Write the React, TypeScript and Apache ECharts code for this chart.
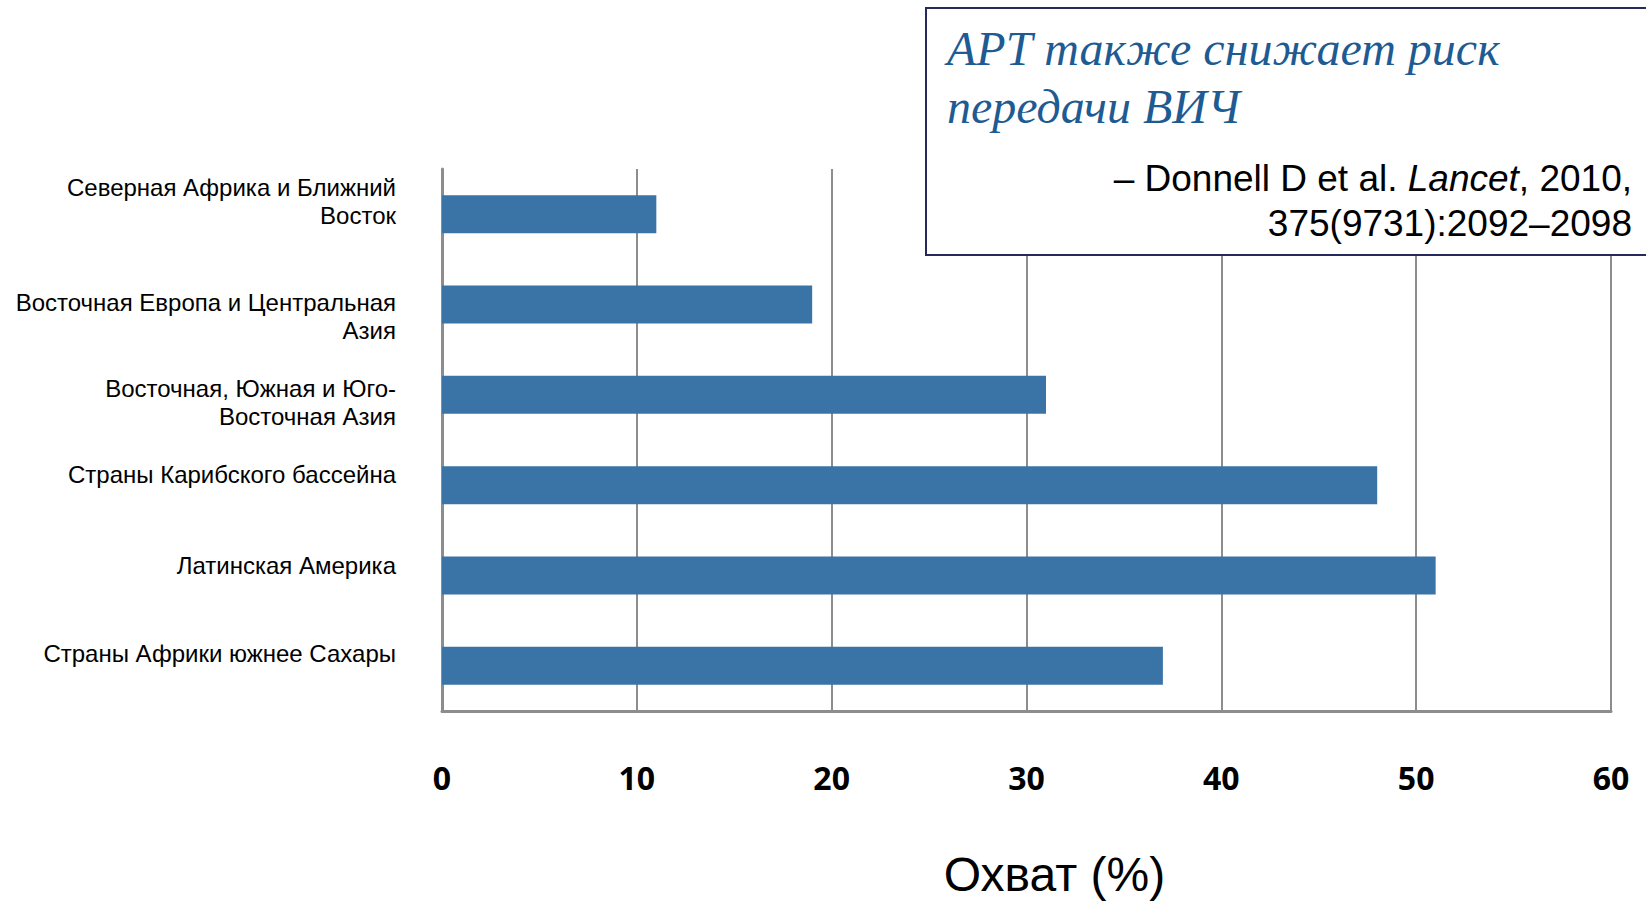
import React, { useEffect, useRef } from "react";
import * as echarts from "echarts";

const categories = [
  "Северная Африка и Ближний\nВосток",
  "Восточная Европа и Центральная\nАзия",
  "Восточная, Южная и Юго-\nВосточная Азия",
  "Страны Карибского бассейна",
  "Латинская Америка",
  "Страны Африки южнее Сахары",
];
const coverage = [11, 19, 31, 48, 51, 37];
const xTicks = { min: 0, max: 60, interval: 10 };
const axisTitle = "Охват (%)";
const boxTitle = ["АРТ также снижает риск", "передачи ВИЧ"];

// vertical nudges of category labels (px, negative = up)
const labelShift = [-13, 12, 8, -11, -10, -12];

export default function App() {
  const ref = useRef<HTMLDivElement>(null);
  useEffect(() => {
    const chart = echarts.init(ref.current!, null, { renderer: "svg" });
    const base = { fontFamily: "Liberation Sans", fontSize: 24, color: "#000000", height: 28, align: "right" };
    const rich: Record<string, any> = {};
    labelShift.forEach((d, i) => {
      const down = Math.max(0, 2 * d);
      const up = Math.max(0, -2 * d);
      rich["f" + i] = { ...base, padding: [down, 0, 0, 0] };
      rich["l" + i] = { ...base, padding: [0, 0, up, 0] };
      rich["s" + i] = { ...base, padding: [down, 0, up, 0] };
    });
    chart.setOption({
      animation: false,
      backgroundColor: "#ffffff",
      grid: { left: 442, right: 1646 - 1611, top: 169, bottom: 903 - 712.5, containLabel: false },
      xAxis: {
        type: "value",
        min: xTicks.min,
        max: xTicks.max,
        interval: xTicks.interval,
        axisLine: { show: true, lineStyle: { color: "#8d8d8d", width: 3 } },
        axisTick: { show: false },
        splitLine: { show: true, lineStyle: { color: "#8d8d8d", width: 2 } },
        axisLabel: {
          margin: 50,
          fontFamily: "Open Sans",
          fontWeight: "bold",
          fontSize: 32,
          lineHeight: 32,
          color: "#000000",
        },
        name: axisTitle,
        nameLocation: "middle",
        nameGap: 139,
        nameTextStyle: {
          fontFamily: "Liberation Sans",
          fontSize: 48,
          lineHeight: 48,
          color: "#000000",
          padding: [0, 0, 0, 56],
        },
      },
      yAxis: {
        type: "category",
        inverse: true,
        data: categories,
        axisLine: { show: true, lineStyle: { color: "#8d8d8d", width: 3 } },
        axisTick: { show: false },
        splitLine: { show: false },
        axisLabel: {
          margin: 46,
          fontFamily: "Liberation Sans",
          fontSize: 24,
          color: "#000000",
          align: "right",
          formatter: (val: string, idx: number) => {
            const lines = val.split("\n");
            if (lines.length === 1) return `{s${idx}|${lines[0]}}`;
            return `{f${idx}|${lines[0]}}\n{l${idx}|${lines[1]}}`;
          },
          rich,
        },
      },
      series: [
        {
          type: "bar",
          data: coverage,
          barWidth: 38,
          itemStyle: { color: "#3a73a5" },
        },
      ],
      graphic: [
        {
          type: "rect",
          z: 100,
          shape: { x: 926, y: 8, width: 760, height: 247 },
          style: { fill: "#ffffff", stroke: "#262a5a", lineWidth: 2 },
        },
        {
          type: "text",
          z: 101,
          x: 947,
          y: 48,
          style: {
            text: boxTitle[0],
            fontFamily: "Liberation Serif",
            fontStyle: "italic",
            fontSize: 48,
            fill: "#1e5b93",
            verticalAlign: "middle",
            align: "left",
          },
        },
        {
          type: "text",
          z: 101,
          x: 947,
          y: 106,
          style: {
            text: boxTitle[1],
            fontFamily: "Liberation Serif",
            fontStyle: "italic",
            fontSize: 48,
            fill: "#1e5b93",
            verticalAlign: "middle",
            align: "left",
          },
        },
        {
          type: "text",
          z: 101,
          x: 1632,
          y: 178,
          style: {
            text: "{n|– Donnell D et al. }{i|Lancet}{n|, 2010,}",
            align: "right",
            verticalAlign: "middle",
            rich: {
              n: { fontFamily: "Liberation Sans", fontSize: 37, fill: "#000000" },
              i: { fontFamily: "Liberation Sans", fontSize: 37, fontStyle: "italic", fill: "#000000" },
            },
          },
        },
        {
          type: "text",
          z: 101,
          x: 1632,
          y: 223,
          style: {
            text: "375(9731):2092–2098",
            fontFamily: "Liberation Sans",
            fontSize: 37,
            fill: "#000000",
            align: "right",
            verticalAlign: "middle",
          },
        },
      ],
    });
    return () => chart.dispose();
  }, []);
  return (
    <div
      ref={ref}
      style={{ position: "fixed", left: 0, top: 0, width: 1646, height: 903 }}
    />
  );
}
